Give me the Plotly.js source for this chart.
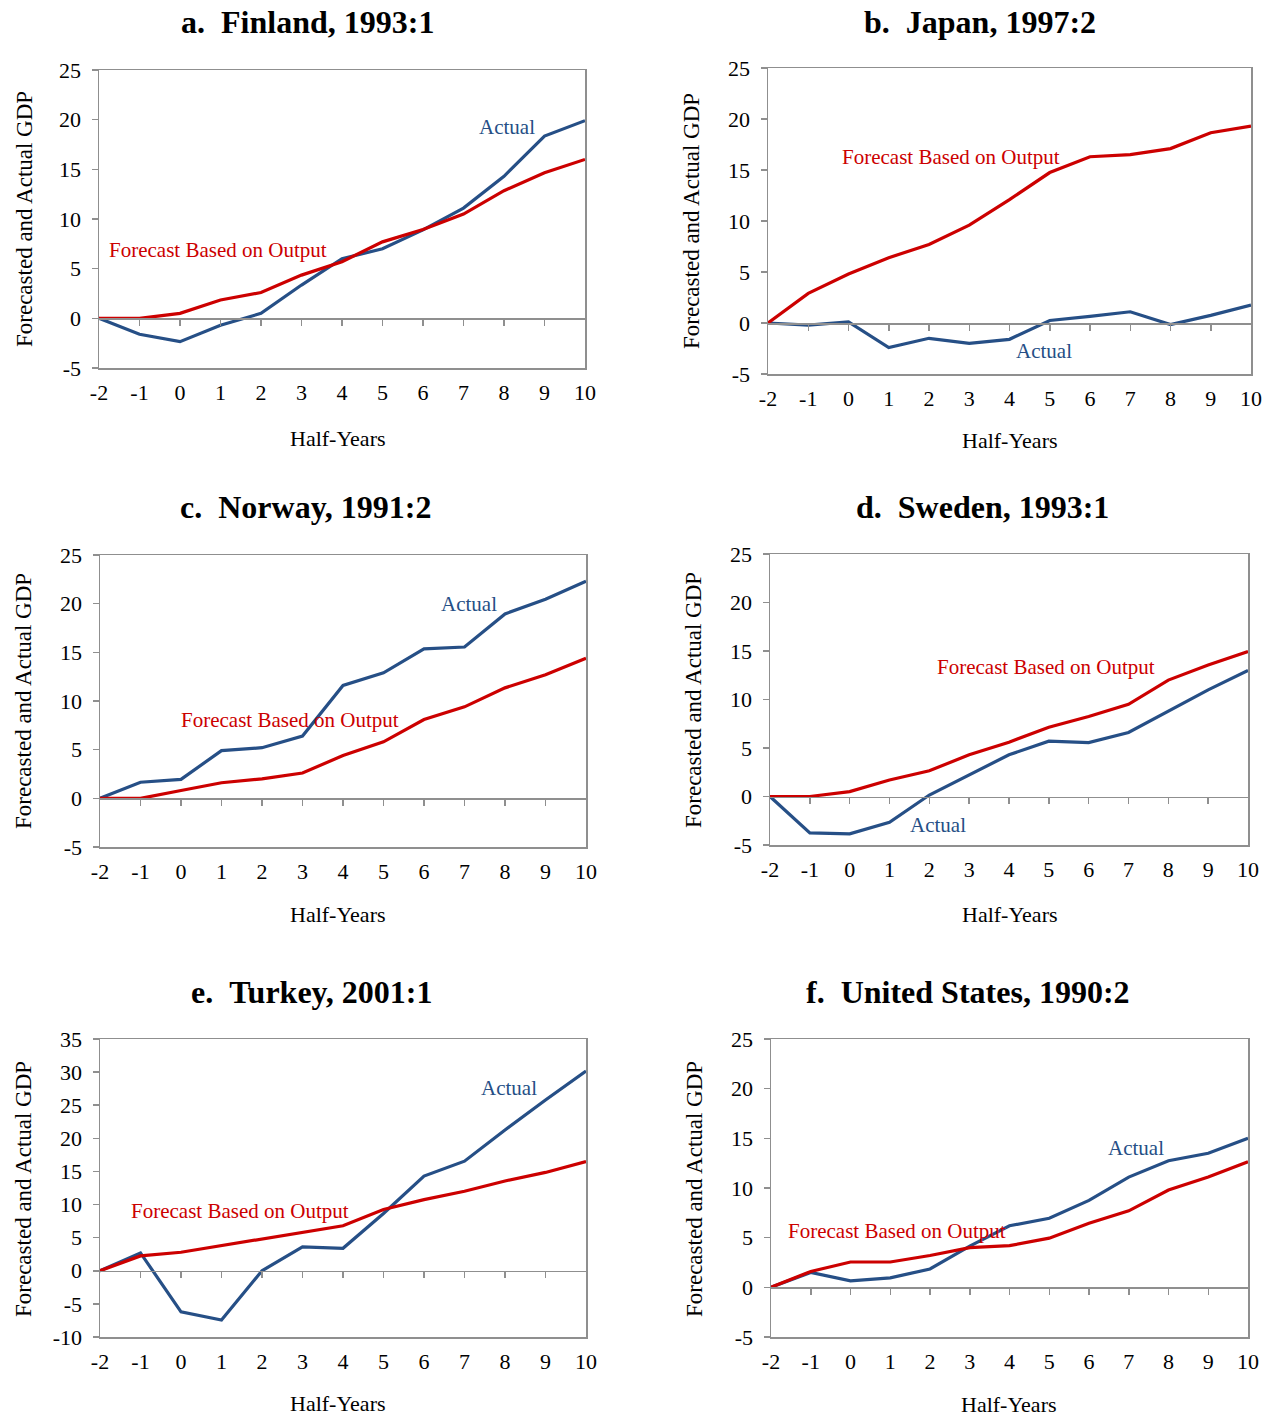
<!DOCTYPE html>
<html><head><meta charset="utf-8">
<script src="https://cdn.plot.ly/plotly-3.0.1.min.js"></script>
<style>html,body{margin:0;padding:0;background:#fff}#chart{width:1272px;height:1416px}</style>
</head><body><div id="chart"></div>
<script>
// ---------- data ----------
const halfYears = [-2,-1,0,1,2,3,4,5,6,7,8,9,10];
const panelTitles = ['a.\u00a0\u00a0Finland, 1993:1','b.\u00a0\u00a0Japan, 1997:2','c.\u00a0\u00a0Norway, 1991:2',
                     'd.\u00a0\u00a0Sweden, 1993:1','e.\u00a0\u00a0Turkey, 2001:1','f.\u00a0\u00a0United States, 1990:2'];
const finlandActual   = [0,-1.6,-2.35,-0.7,0.5,3.35,6.0,7.0,8.9,11.1,14.3,18.35,19.9];
const finlandForecast = [0,0,0.5,1.85,2.6,4.35,5.7,7.7,8.95,10.5,12.85,14.65,16.0];
const japanActual     = [0,-0.2,0.1,-2.4,-1.5,-2.0,-1.6,0.25,0.65,1.1,-0.15,0.75,1.75];
const japanForecast   = [0,2.9,4.8,6.4,7.7,9.6,12.1,14.75,16.3,16.5,17.1,18.65,19.3];
const norwayActual    = [0,1.65,1.95,4.9,5.2,6.4,11.6,12.9,15.35,15.55,18.95,20.45,22.3];
const norwayForecast  = [0,0,0.8,1.6,2.0,2.6,4.4,5.8,8.1,9.4,11.35,12.7,14.4];
const swedenActual    = [0,-3.75,-3.85,-2.65,0.15,2.25,4.3,5.7,5.55,6.6,8.8,11.0,13.0];
const swedenForecast  = [0,0,0.5,1.7,2.65,4.3,5.6,7.15,8.25,9.5,12.0,13.55,14.95];
const turkeyActual    = [0,2.7,-6.2,-7.45,0,3.6,3.4,8.65,14.3,16.55,21.25,25.8,30.15];
const turkeyForecast  = [0,2.25,2.8,3.8,4.85,5.8,6.8,9.25,10.75,12.0,13.55,14.85,16.5];
const usActual        = [0,1.5,0.65,0.95,1.85,4.15,6.2,6.95,8.75,11.1,12.75,13.5,15.0];
const usForecast      = [0,1.6,2.55,2.55,3.2,4.0,4.2,4.95,6.45,7.7,9.8,11.1,12.65];
const yRangeStd = [-5,25];
const yRangeTurkey = [-10,35];
const actualLabel = 'Actual';
const forecastLabel = 'Forecast Based on Output';
const xTitle = 'Half-Years';
const yTitle = 'Forecasted and Actual GDP';

// ---------- layout (pixel boxes) ----------
const W = 1272, H = 1416;
const panels = [
  {actual: finlandActual, forecast: finlandForecast, yr: yRangeStd,    box:[99,585,70,368],    t:[307,22],  a:[507,127],  f:[218,250],  xt:[338,438],  yt:[24,219]},
  {actual: japanActual,   forecast: japanForecast,   yr: yRangeStd,    box:[768,1251,68,374],  t:[980,22],  a:[1044,351], f:[951,157],  xt:[1010,441], yt:[691,221]},
  {actual: norwayActual,  forecast: norwayForecast,  yr: yRangeStd,    box:[100,586,555,847],  t:[306,507], a:[469,604],  f:[290,720],  xt:[338,914],  yt:[23,701]},
  {actual: swedenActual,  forecast: swedenForecast,  yr: yRangeStd,    box:[770,1248,554,845], t:[982,507], a:[938,825],  f:[1046,667], xt:[1010,914], yt:[694,700]},
  {actual: turkeyActual,  forecast: turkeyForecast,  yr: yRangeTurkey, box:[100,586,1039,1337],t:[312,992], a:[509,1088], f:[240,1211], xt:[338,1403], yt:[23,1189]},
  {actual: usActual,      forecast: usForecast,      yr: yRangeStd,    box:[771,1248,1039,1337],t:[968,992],a:[1136,1148],f:[897,1231], xt:[1009,1404],yt:[694,1189]}
];

const BLUE = '#264f86', RED = '#cc0000', GRAY = '#8f8f8f';
const FONT = 'Liberation Serif, Times New Roman, serif';
const traces = [];
const layout = {
  width: W, height: H, margin:{l:0,r:0,t:0,b:0}, showlegend:false,
  paper_bgcolor:'#fff', plot_bgcolor:'#fff', font:{family:FONT, color:'#000'},
  annotations: []
};

function ann(xy, text, size, color, extra) {
  return Object.assign({xref:'paper', yref:'paper', x:xy[0]/W, y:1-xy[1]/H, xanchor:'center', yanchor:'middle',
    text:text, showarrow:false, font:{size:size, family:FONT, color:color}}, extra || {});
}

panels.forEach((p, i) => {
  const n = i + 1;
  const s = n === 1 ? '' : String(n);
  const o = String(n + 6);
  const [L, R, T, B] = p.box;
  const xd = [L / W, R / W];
  const yd = [1 - B / H, 1 - T / H];
  const ymin = p.yr[0], ymax = p.yr[1];
  const zeroPos = yd[0] + (0 - ymin) / (ymax - ymin) * (yd[1] - yd[0]);
  const yt = []; for (let v = ymin; v <= ymax; v += 5) yt.push(v);

  traces.push({x: halfYears, y: p.actual, xaxis:'x'+s, yaxis:'y'+s, type:'scatter', mode:'lines',
               line:{color:BLUE, width:3.2}, hoverinfo:'skip'});
  traces.push({x: halfYears, y: p.forecast, xaxis:'x'+o, yaxis:'y'+s, type:'scatter', mode:'lines',
               line:{color:RED, width:3.2}, hoverinfo:'skip'});

  layout['xaxis'+s] = {
    domain: xd, anchor:'y'+s, range:[-2,10], fixedrange:true,
    showline:true, linecolor:GRAY, linewidth:1.5, mirror:true,
    ticks:'', tickmode:'array', tickvals: halfYears, ticktext: halfYears.map(String),
    tickfont:{size:22, family:FONT, color:'#000'}, ticklabelstandoff: 4,
    showgrid:false, zeroline:false
  };
  layout['xaxis'+o] = {
    domain: xd, overlaying:'x'+s, anchor:'free', position: zeroPos, range:[-2,10], fixedrange:true,
    showline:true, linecolor:GRAY, linewidth:1.5,
    ticks:'outside', ticklen:6, tickwidth:1.5, tickcolor:GRAY,
    tickmode:'array', tickvals: halfYears.slice(1, -1), showticklabels:false,
    showgrid:false, zeroline:false
  };
  layout['yaxis'+s] = {
    domain: yd, anchor:'x'+s, range: p.yr, fixedrange:true,
    showline:true, linecolor:GRAY, linewidth:1.5, mirror:true,
    ticks:'outside', ticklen:6, tickwidth:1.5, tickcolor:GRAY,
    tickmode:'array', tickvals: yt, ticktext: yt.map(String),
    tickfont:{size:22, family:FONT, color:'#000'}, ticklabelstandoff: 6,
    showgrid:false, zeroline:false
  };

  layout.annotations.push(ann(p.t, panelTitles[i], 32, '#000', {font:{size:32, family:FONT, color:'#000', weight:'bold'}}));
  layout.annotations.push(ann(p.xt, xTitle, 22, '#000'));
  layout.annotations.push(ann(p.yt, yTitle, 23, '#000', {textangle:-90}));
  layout.annotations.push(ann(p.a, actualLabel, 21, BLUE));
  layout.annotations.push(ann(p.f, forecastLabel, 21, RED));
});

Plotly.newPlot('chart', traces, layout, {displayModeBar:false, staticPlot:true});
</script>
</body></html>
